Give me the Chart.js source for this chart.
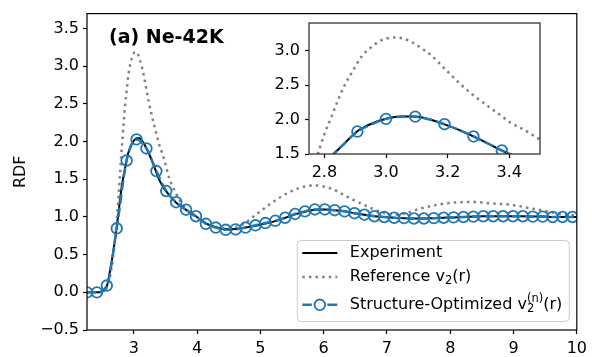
<!DOCTYPE html>
<html>
<head>
<meta charset="utf-8">
<script src="https://cdn.jsdelivr.net/npm/chart.js@4/dist/chart.umd.min.js"></script>
<style>
  html, body { margin: 0; padding: 0; background: #fff; }
  #wrap { position: relative; width: 592px; height: 357px; overflow: hidden; }
  #main { position: absolute; left: 0; top: 0; }
  #inset { position: absolute; left: 250px; top: 0; }
</style>
</head>
<body>
<div id="wrap">
  <canvas id="main" width="592" height="357"></canvas>
  <canvas id="inset" width="310" height="190"></canvas>
</div>
<script>
// ---- tick labels ----
const xTicks = [3, 4, 5, 6, 7, 8, 9, 10];
const yTicks = [-0.5, 0.0, 0.5, 1.0, 1.5, 2.0, 2.5, 3.0, 3.5];
const insetXTicks = [2.8, 3.0, 3.2, 3.4];
const insetYTicks = [1.5, 2.0, 2.5, 3.0];

// ---- structure-optimized v2(n): r grid (circles on all but the last point) ----
const rOpt = [2.262, 2.419, 2.575, 2.732, 2.888, 3.045, 3.201, 3.358, 3.514, 3.671,
  3.827, 3.984, 4.140, 4.297, 4.453, 4.610, 4.766, 4.923, 5.079, 5.236,
  5.392, 5.549, 5.705, 5.862, 6.018, 6.175, 6.331, 6.488, 6.644, 6.801,
  6.957, 7.114, 7.270, 7.427, 7.583, 7.740, 7.896, 8.053, 8.209, 8.366,
  8.522, 8.679, 8.835, 8.992, 9.148, 9.305, 9.461, 9.618, 9.774, 9.931, 10.0];
const gOpt = [0.00, 0.00, 0.09, 0.85, 1.75, 2.03, 1.91, 1.61, 1.345, 1.196,
  1.097, 1.01, 0.91, 0.86, 0.83, 0.835, 0.86, 0.89, 0.92, 0.95,
  0.99, 1.04, 1.075, 1.10, 1.10, 1.09, 1.075, 1.05, 1.03, 1.01,
  1.00, 0.99, 0.985, 0.98, 0.98, 0.985, 0.99, 0.995, 1.00, 1.005,
  1.01, 1.01, 1.01, 1.01, 1.01, 1.005, 1.005, 1.00, 1.00, 1.00, 1.00];

// ---- experiment ----
const rExp = [2.262, 2.419, 2.50, 2.575, 2.65, 2.732, 2.813, 2.86, 2.907, 2.953,
  3.0, 3.047, 3.095, 3.142, 3.19, 3.237, 3.284, 3.33, 3.376, 3.423,
  3.47, 3.514, 3.671, 3.827, 3.984, 4.140, 4.297, 4.453, 4.610, 4.766,
  4.923, 5.079, 5.236, 5.392, 5.549, 5.705, 5.862, 6.018, 6.175, 6.331,
  6.488, 6.644, 6.801, 6.957, 7.114, 7.270, 7.427, 7.583, 7.740, 7.896,
  8.053, 8.209, 8.366, 8.522, 8.679, 8.835, 8.992, 9.148, 9.305, 9.461,
  9.618, 9.774, 9.931, 10.0];
const gExp = [0.00, 0.00, 0.01, 0.08, 0.40, 0.87, 1.42, 1.63, 1.83, 1.94,
  2.01, 2.045, 2.045, 2.00, 1.93, 1.85, 1.755, 1.655, 1.55, 1.46,
  1.39, 1.34, 1.19, 1.095, 1.01, 0.915, 0.865, 0.84, 0.84, 0.86,
  0.885, 0.915, 0.945, 0.99, 1.035, 1.07, 1.095, 1.10, 1.09, 1.075,
  1.05, 1.03, 1.01, 1.00, 0.99, 0.985, 0.98, 0.98, 0.985, 0.99,
  0.995, 1.00, 1.005, 1.01, 1.01, 1.01, 1.01, 1.01, 1.005, 1.005,
  1.00, 1.00, 1.00, 1.00];

// ---- reference v2(r) ----
const rRef = [2.262, 2.40, 2.50, 2.55, 2.60, 2.65, 2.70, 2.74, 2.779, 2.801,
  2.823, 2.844, 2.866, 2.893, 2.920, 2.952, 2.985, 3.028, 3.060, 3.103,
  3.147, 3.190, 3.233, 3.276, 3.320, 3.363, 3.406, 3.449, 3.492, 3.56,
  3.67, 3.77, 3.90, 4.00, 4.20, 4.40, 4.60, 4.76, 4.90, 5.07,
  5.33, 5.60, 5.85, 6.11, 6.37, 6.64, 6.90, 7.11, 7.30, 7.52,
  7.78, 8.04, 8.35, 8.67, 8.98, 9.24, 9.50, 9.81, 10.0];
const gRef = [0.00, 0.00, 0.00, 0.03, 0.12, 0.33, 0.65, 1.05, 1.51, 1.80,
  2.04, 2.28, 2.50, 2.71, 2.91, 3.05, 3.15, 3.19, 3.17, 3.07,
  2.93, 2.74, 2.55, 2.38, 2.23, 2.09, 1.95, 1.85, 1.73, 1.52,
  1.31, 1.17, 1.05, 0.99, 0.90, 0.855, 0.865, 0.92, 1.01, 1.12,
  1.27, 1.38, 1.42, 1.38, 1.27, 1.16, 1.07, 1.03, 1.05, 1.11,
  1.16, 1.19, 1.20, 1.18, 1.16, 1.12, 1.08, 1.03, 1.02];

// ---- first-peak detail (inset) ----
const rPeak = [2.766, 2.813, 2.86, 2.907, 2.953, 3.0, 3.047, 3.095, 3.142, 3.19,
  3.237, 3.284, 3.33, 3.376, 3.423, 3.47];
const gPeakOpt = [1.15, 1.42, 1.63, 1.826, 1.93, 2.009, 2.04, 2.042, 2.0, 1.932,
  1.85, 1.754, 1.655, 1.552, 1.46, 1.39];
const gPeakExp = [1.15, 1.42, 1.63, 1.83, 1.94, 2.01, 2.045, 2.045, 2.0, 1.93,
  1.85, 1.755, 1.655, 1.55, 1.46, 1.39];
const rPeakMarks = [2.907, 3.0, 3.095, 3.19, 3.284, 3.376];
const gPeakMarks = [1.826, 2.009, 2.042, 1.932, 1.754, 1.552];

// ---- styling ----
const FONT = 'DejaVu Sans';
const C0 = '#1f77b4';
const GREY = '#808080';
const pts = (xs, ys) => xs.map((x, i) => ({ x: x, y: ys[i] }));
const fmt1 = v => Number(v).toFixed(1).replace('-', '\u2212');

const frame = (color, width) => ({
  id: 'frame',
  beforeDatasetsDraw(chart) {
    const { ctx, chartArea: a } = chart;
    ctx.save();
    ctx.fillStyle = '#ffffff';
    ctx.fillRect(a.left, a.top, a.right - a.left, a.bottom - a.top);
    ctx.restore();
  },
  afterDraw(chart) {
    const { ctx, chartArea: a } = chart;
    ctx.save();
    ctx.strokeStyle = color;
    ctx.lineWidth = width;
    ctx.strokeRect(a.left, a.top, a.right - a.left, a.bottom - a.top);
    ctx.restore();
  }
});

function axisX(min, max, ticks, height, fmt, pad) {
  return {
    type: 'linear', min: min, max: max,
    afterBuildTicks: s => { s.ticks = ticks.map(v => ({ value: v })); },
    afterFit: s => { s.height = height; },
    grid: { drawOnChartArea: false, drawTicks: true, tickLength: 4, tickColor: '#000', tickWidth: 1.2 },
    border: { display: false },
    ticks: { color: '#000', font: { family: FONT, size: 16 }, padding: pad, maxRotation: 0, autoSkip: false, callback: fmt }
  };
}
function axisY(min, max, ticks, width, pad) {
  return {
    type: 'linear', min: min, max: max,
    afterBuildTicks: s => { s.ticks = ticks.map(v => ({ value: v })); },
    afterFit: s => { s.width = width; },
    grid: { drawOnChartArea: false, drawTicks: true, tickLength: 4, tickColor: '#000', tickWidth: 1.2 },
    border: { display: false },
    ticks: { color: '#000', font: { family: FONT, size: 16 }, padding: pad, autoSkip: false, callback: fmt1 }
  };
}

// legend with sub/superscripts, drawn in the lower right corner of the plot
const legendPlugin = {
  id: 'rdfLegend',
  afterDraw(chart) {
    const { ctx, chartArea: a } = chart;
    const w = 272, h = 81;
    const L = a.right - 7.5 - w, T = a.bottom - 8.5 - h;
    ctx.save();
    ctx.beginPath();
    ctx.roundRect(L, T, w, h, 4);
    ctx.fillStyle = 'rgba(255,255,255,0.8)';
    ctx.fill();
    ctx.strokeStyle = '#cccccc';
    ctx.lineWidth = 1;
    ctx.stroke();

    const hx0 = L + 5, hx1 = L + 40, tx = L + 52.5;
    const rows = [T + 12.6, T + 36.6, T + 64.3];
    const seg = (y, color, lw, dash) => {
      ctx.beginPath(); ctx.setLineDash(dash);
      ctx.strokeStyle = color; ctx.lineWidth = lw;
      ctx.moveTo(hx0, y); ctx.lineTo(hx1, y); ctx.stroke();
      ctx.setLineDash([]);
    };
    seg(rows[0], '#000', 2, []);
    seg(rows[1], GREY, 2.5, [2.5, 4.1]);
    ctx.beginPath(); ctx.strokeStyle = C0; ctx.lineWidth = 2.5;
    ctx.moveTo(hx0, rows[2]); ctx.lineTo(hx0 + 9.5, rows[2]);
    ctx.moveTo(hx1 - 10, rows[2]); ctx.lineTo(hx1, rows[2]); ctx.stroke();
    ctx.beginPath(); ctx.lineWidth = 1.8;
    ctx.arc((hx0 + hx1) / 2, rows[2], 5.3, 0, Math.PI * 2); ctx.stroke();

    ctx.fillStyle = '#000';
    ctx.textBaseline = 'middle';
    ctx.textAlign = 'left';
    const big = '16px "' + FONT + '"', small = '11.5px "' + FONT + '"';
    ctx.font = big;
    ctx.fillText('Experiment', tx, rows[0]);

    let x = tx;
    ctx.fillText('Reference v', x, rows[1]); x += ctx.measureText('Reference v').width;
    ctx.font = small; ctx.fillText('2', x, rows[1] + 4); x += ctx.measureText('2').width;
    ctx.font = big; ctx.fillText('(r)', x, rows[1]);

    x = tx;
    ctx.fillText('Structure-Optimized v', x, rows[2]); x += ctx.measureText('Structure-Optimized v').width;
    ctx.font = small;
    ctx.fillText('(n)', x, rows[2] - 6);
    ctx.fillText('2', x, rows[2] + 4);
    x += ctx.measureText('(n)').width;
    ctx.font = big; ctx.fillText('(r)', x, rows[2]);

    // panel label
    ctx.font = 'bold 19px "' + FONT + '"';
    ctx.fillText('(a) Ne-42K', a.left + 22, a.top + 24);
    ctx.restore();
  }
};

Chart.defaults.font.family = FONT;

new Chart(document.getElementById('main'), {
  type: 'line',
  data: {
    datasets: [
      {
        label: 'Structure-Optimized',
        data: pts(rOpt, gOpt),
        borderColor: C0, borderWidth: 2.5, borderDash: [9.25, 4],
        pointRadius: c => (c.dataIndex < rOpt.length - 1 ? 5.3 : 0),
        pointBorderColor: C0, pointBackgroundColor: 'rgba(0,0,0,0)', pointBorderWidth: 1.8,
        cubicInterpolationMode: 'monotone', fill: false, order: 0
      },
      {
        label: 'Reference',
        data: pts(rRef, gRef),
        borderColor: GREY, borderWidth: 2.5, borderDash: [2.5, 4.1],
        pointRadius: 0, cubicInterpolationMode: 'monotone', fill: false, order: 1
      },
      {
        label: 'Experiment',
        data: pts(rExp, gExp),
        borderColor: '#000', borderWidth: 2,
        pointRadius: 0, cubicInterpolationMode: 'monotone', fill: false, order: 2
      }
    ]
  },
  options: {
    responsive: false, animation: false, devicePixelRatio: 1,
    layout: { padding: { left: 0, right: 12, top: 10, bottom: 0 } },
    plugins: { legend: { display: false }, tooltip: { enabled: false } },
    scales: {
      x: axisX(2.262, 10, xTicks, 27, v => String(v), 5),
      y: Object.assign(axisY(-0.5, 3.7, yTicks, 87, 4), {
        title: { display: true, text: 'RDF', color: '#000', font: { family: FONT, size: 16 }, padding: { top: 11, bottom: 0 } }
      })
    }
  },
  plugins: [frame('#000', 1.2), legendPlugin]
});

new Chart(document.getElementById('inset'), {
  type: 'line',
  data: {
    datasets: [
      {
        label: 'Structure-Optimized markers',
        data: pts(rPeakMarks, gPeakMarks),
        showLine: false, pointRadius: 5.3,
        pointBorderColor: C0, pointBackgroundColor: 'rgba(0,0,0,0)', pointBorderWidth: 1.8, order: 0
      },
      {
        label: 'Structure-Optimized',
        data: pts(rPeak, gPeakOpt),
        borderColor: C0, borderWidth: 2.5, borderDash: [9.25, 4],
        pointRadius: 0, cubicInterpolationMode: 'monotone', fill: false, order: 1
      },
      {
        label: 'Reference',
        data: pts(rRef, gRef),
        borderColor: GREY, borderWidth: 2.5, borderDash: [2.5, 4.1],
        pointRadius: 0, cubicInterpolationMode: 'monotone', fill: false, order: 2
      },
      {
        label: 'Experiment',
        data: pts(rPeak, gPeakExp),
        borderColor: '#000', borderWidth: 2,
        pointRadius: 0, cubicInterpolationMode: 'monotone', fill: false, order: 3
      }
    ]
  },
  options: {
    responsive: false, animation: false, devicePixelRatio: 1,
    layout: { padding: { left: 0, right: 20, top: 23, bottom: 0 } },
    plugins: { legend: { display: false }, tooltip: { enabled: false } },
    scales: {
      x: axisX(2.75, 3.5, insetXTicks, 36, fmt1, 5),
      y: axisY(1.5, 3.4, insetYTicks, 59, 5)
    }
  },
  plugins: [frame('#333', 1.3)]
});
</script>
</body>
</html>
